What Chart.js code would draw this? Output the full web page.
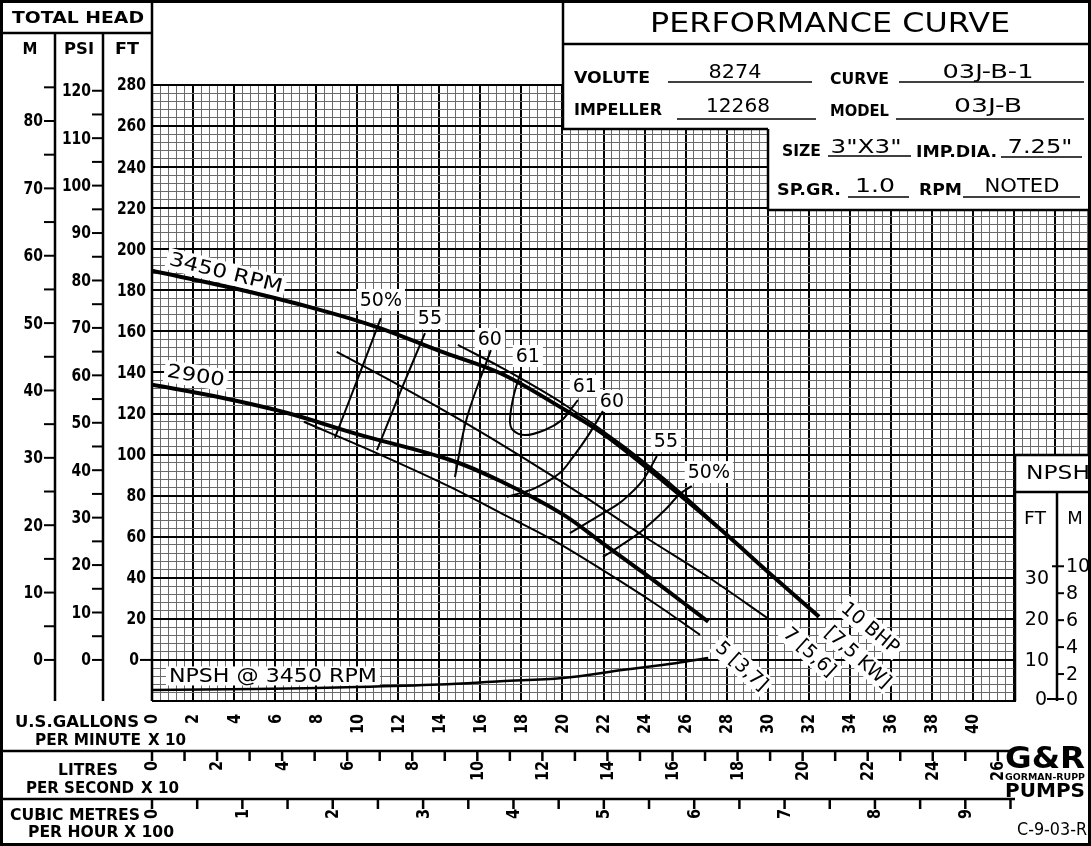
<!DOCTYPE html>
<html lang="en">
<head>
<meta charset="UTF-8">
<title>Performance Curve 03J-B</title>
<style>
  html, body { margin: 0; padding: 0; background: #fff; }
</style>
</head>
<body>
<canvas id="curveChart" width="1091" height="846"></canvas>

<script src="https://cdn.jsdelivr.net/npm/chart.js"></script>
<script>
// flow in U.S. gpm x 10, head in ft
const q3450 = [0, 4, 8, 11, 14, 17, 20, 22, 24, 26, 28, 30, 32.5];
const h3450 = [189.5, 181, 171, 162, 150.5, 139.5, 122.5, 110, 94.5, 78, 61, 43, 21];
const q2900 = [0, 3, 6.5, 10, 14.5, 17, 20, 22, 24, 26, 27.1];
const h2900 = [134, 128.5, 120.5, 110, 97.5, 87, 71, 56.5, 42, 27, 18.6];

// brake horsepower lines
const qBhp5 = [7.4, 11, 14.5, 17, 19.5, 22, 24.5, 26.7];
const hBhp5 = [116, 100.5, 84.4, 71.5, 58.6, 43.5, 27.5, 12.2];
const qBhp7 = [9, 12, 15, 18, 21, 24, 27, 30];
const hBhp7 = [150, 134, 117, 99, 80, 60, 41, 20.3];
const qBhp10 = [14.9, 17, 20, 23, 26, 29, 32.5];
const hBhp10 = [153.4, 142.5, 125, 104, 79.5, 52, 21.5];

// efficiency lines (left side / right side)
const qEff50L = [11.15, 10.1, 8.91], hEff50L = [166.5, 139, 108.1];
const qEff55L = [13.3, 12.1, 10.96], hEff55L = [159.2, 130.5, 102.2];
const qEff60L = [16.51, 15.34, 14.76], hEff60L = [150.9, 117.8, 89.1];
const qEff61 = [17.97, 17.63, 17.44, 17.58, 18.17, 19.14, 19.97, 20.46, 20.75];
const hEff61 = [140.2, 129, 116.8, 112, 109.5, 112, 116.8, 122.7, 126.6];
const qEff60R = [21.97, 21.24, 20.51, 19.87, 18.66, 17.29], hEff60R = [121.2, 109.1, 98.8, 91, 83.7, 79.4];
const qEff55R = [24.6, 23.92, 23.14, 22.65, 21.58, 20.36], hEff55R = [99.3, 87.6, 79.4, 75.5, 69.1, 61.8];
const qEff50R = [26.3, 25.72, 24.99, 23.92, 23.04, 21.97], hEff50R = [84.7, 80.8, 73, 63.3, 57, 50.1];

// NPSH required @ 3450 rpm, ft
const qNpsh = [0, 5, 10, 14, 17, 20, 23, 25.5, 27.1];
const npshFt = [2.7, 2.9, 3.4, 4.0, 4.8, 5.6, 7.6, 9.2, 10.5];

// tick labels
const gpmTicks = [0, 2, 4, 6, 8, 10, 12, 14, 16, 18, 20, 22, 24, 26, 28, 30, 32, 34, 36, 38, 40];
const lpsTicks = [0, 2, 4, 6, 8, 10, 12, 14, 16, 18, 20, 22, 24, 26];
const m3hTicks = [0, 1, 2, 3, 4, 5, 6, 7, 8, 9];
const ftTicks = [0, 20, 40, 60, 80, 100, 120, 140, 160, 180, 200, 220, 240, 260, 280];
const psiTicks = [0, 10, 20, 30, 40, 50, 60, 70, 80, 90, 100, 110, 120];
const mTicks = [0, 10, 20, 30, 40, 50, 60, 70, 80];
const npshFtTicks = [0, 10, 20, 30];
const npshMTicks = [0, 2, 4, 6, 8, 10];

const FT_PER_M = 3.2808, FT_PER_PSI = 2.31, GPM_PER_LPS = 15.85, GPM_PER_M3H = 4.4029;

function pts(q, h) { return q.map((x, i) => ({ x: x, y: h[i] })); }
function steps(min, max, step) {
  const out = [];
  for (let k = 0; min + k * step <= max + 1e-9; k++) out.push({ value: +(min + k * step).toFixed(4) });
  return out;
}

const curves = [
  [q3450, h3450, 4, 'y'],
  [q2900, h2900, 4, 'y'],
  [qBhp5, hBhp5, 2, 'y'],
  [qBhp7, hBhp7, 2, 'y'],
  [qBhp10, hBhp10, 2, 'y'],
  [qEff50L, hEff50L, 2, 'y'],
  [qEff55L, hEff55L, 2, 'y'],
  [qEff60L, hEff60L, 2, 'y'],
  [qEff61, hEff61, 2, 'y'],
  [qEff60R, hEff60R, 2, 'y'],
  [qEff55R, hEff55R, 2, 'y'],
  [qEff50R, hEff50R, 2, 'y'],
  [qNpsh, npshFt, 2.5, 'yN']
];

// ---- drawing helpers ----
function txt(c, s, x, y, o) {
  o = o || {};
  c.save();
  c.font = o.font || '16px "DejaVu Sans"';
  const w0 = c.measureText(s).width;
  const sx = o.w ? o.w / w0 : (o.sx || 1);
  const w = w0 * sx;
  c.translate(x, y);
  if (o.rot) c.rotate(o.rot * Math.PI / 180);
  const align = o.align || 'center';
  const left = align === 'center' ? -w / 2 : (align === 'right' ? -w : 0);
  if (o.bg) {
    const h = o.bh || 22;
    c.fillStyle = '#fff';
    c.fillRect(left - 3, -h / 2, w + 6, h);
  }
  c.scale(sx, 1);
  c.fillStyle = '#000';
  c.textBaseline = 'middle';
  c.textAlign = 'left';
  c.fillText(s, left / sx, 1);
  c.restore();
}
function ln(c, x1, y1, x2, y2, lw) {
  c.beginPath();
  c.lineWidth = lw || 2;
  c.strokeStyle = '#000';
  c.moveTo(x1, y1);
  c.lineTo(x2, y2);
  c.stroke();
}

const LBL = '19px "DejaVu Sans"';
const BOLD = 'bold 15px "DejaVu Sans"';
const NUM = 'bold 17px "DejaVu Sans"';

const sheet = {
  id: 'sheet',
  beforeDatasetsDraw(chart) {
    const c = chart.ctx, X = chart.scales.x, Y = chart.scales.y;
    const at = (u, f) => [X.getPixelForValue(u), Y.getPixelForValue(f)];
    // curve labels on white patches
    let p;
    p = at(3.6, 188.5); txt(c, '3450 RPM', p[0], p[1], { font: LBL, rot: 14, bg: true, w: 116 });
    p = at(2.14, 138.5); txt(c, '2900', p[0], p[1], { font: LBL, rot: 9, bg: true, w: 58 });
    const effLbl = [['50%', 11.15, 175.3], ['55', 13.54, 166.5], ['60', 16.46, 156.3], ['61', 18.31, 148],
                    ['61', 21.09, 133.4], ['60', 22.41, 126.1], ['55', 25.04, 106.6], ['50%', 27.13, 91.5]];
    effLbl.forEach(e => { p = at(e[1], e[2]); txt(c, e[0], p[0], p[1], { font: LBL, bg: true }); });
    p = at(5.89, -7.8); txt(c, 'NPSH @ 3450 RPM', p[0], p[1], { font: LBL, bg: true, w: 208, bh: 19 });
    p = at(28.74, -2.9); txt(c, '5 [3,7]', p[0], p[1], { font: LBL, rot: 42, bg: true });
    p = at(32.05, 3.9); txt(c, '7 [5,6]', p[0], p[1], { font: LBL, rot: 42, bg: true });
    p = at(35.0, 15.6); txt(c, '10 BHP', p[0], p[1], { font: LBL, rot: 40, bg: true });
    p = at(34.4, 1.4); txt(c, '[7,5 KW]', p[0], p[1], { font: LBL, rot: 42, bg: true });
  },
  afterDraw(chart) {
    const c = chart.ctx, X = chart.scales.x, Y = chart.scales.y, YN = chart.scales.yN;
    const gBot = Y.getPixelForValue(-20);

    // info box
    c.fillStyle = '#fff';
    c.fillRect(563, 0, 528, 129);
    c.fillRect(768, 0, 323, 210);
    // NPSH box
    c.fillRect(1016, 455, 75, gBot - 453);

    // frame
    c.save();
    c.strokeStyle = '#000';
    c.lineWidth = 3;
    c.strokeRect(1.5, 1.5, 1088, 843);
    c.restore();
    ln(c, 152, 0, 152, gBot, 2.5);
    ln(c, 0, 33, 152, 33, 2.5);
    ln(c, 55, 33, 55, gBot, 2.5);
    ln(c, 103, 33, 103, gBot, 2.5);
    ln(c, 0, 751, 1015, 751, 2.5);
    ln(c, 0, 799, 1015, 799, 2.5);
    ln(c, 563, 0, 563, 129, 2.5);
    ln(c, 563, 44, 1091, 44, 2.5);
    ln(c, 563, 129, 768, 129, 2.5);
    ln(c, 768, 129, 768, 210, 2.5);
    ln(c, 768, 210, 1091, 210, 2.5);
    ln(c, 1015, 455, 1015, gBot, 2.5);
    ln(c, 1015, 455, 1091, 455, 2.5);
    ln(c, 1015, 492, 1091, 492, 2.5);
    ln(c, 1057, 492, 1057, gBot, 2.5);

    // left head scales
    txt(c, 'TOTAL HEAD', 78, 18, { font: 'bold 16px "DejaVu Sans"', w: 132 });
    txt(c, 'M', 30, 49, { font: BOLD });
    txt(c, 'PSI', 79, 49, { font: BOLD, w: 30 });
    txt(c, 'FT', 127, 49, { font: BOLD, w: 24 });
    for (let m = 0; m <= 85; m += 5) {
      const y = Y.getPixelForValue(m * FT_PER_M);
      ln(c, 44, y, 55, y, 2);
    }
    mTicks.forEach(m => txt(c, String(m), 43, Y.getPixelForValue(m * FT_PER_M), { font: NUM, align: 'right', sx: 0.82 }));
    for (let p = 0; p <= 120; p += 5) {
      const y = Y.getPixelForValue(p * FT_PER_PSI);
      ln(c, 92, y, 103, y, 2);
    }
    psiTicks.forEach(p => txt(c, String(p), 91, Y.getPixelForValue(p * FT_PER_PSI), { font: NUM, align: 'right', sx: 0.82 }));
    ftTicks.forEach(f => txt(c, String(f), f === 0 ? 139 : 146, Y.getPixelForValue(f), { font: NUM, align: 'right', sx: 0.82 }));
    ln(c, 140, Y.getPixelForValue(0), 152, Y.getPixelForValue(0), 2);

    // NPSH scales
    txt(c, 'NPSH', 1058, 473, { font: '20px "DejaVu Sans"', w: 64 });
    txt(c, 'FT', 1035, 518, { font: '18px "DejaVu Sans"', w: 22 });
    txt(c, 'M', 1075, 518, { font: '18px "DejaVu Sans"' });
    npshFtTicks.forEach(n => {
      const y = YN.getPixelForValue(n);
      if (n === 0) { txt(c, '0', 1041, y - 2, { font: '19px "DejaVu Sans"' }); ln(c, 1047, y - 2, 1057, y - 2, 2); }
      else txt(c, String(n), 1049, y, { font: '19px "DejaVu Sans"', align: 'right' });
    });
    npshMTicks.forEach(m => {
      const y = YN.getPixelForValue(m * FT_PER_M);
      const yy = m === 0 ? y - 2 : y;
      ln(c, m === 10 ? 1052 : 1057, yy, 1064, yy, 2);
      txt(c, String(m), 1066, yy, { font: '19px "DejaVu Sans"', align: 'left' });
    });

    // flow scales
    txt(c, 'U.S.GALLONS', 77, 722, { font: BOLD, w: 124 });
    txt(c, 'PER MINUTE', 88, 740, { font: BOLD, w: 106 });
    txt(c, 'X 10', 167, 740, { font: BOLD, w: 38 });
    gpmTicks.forEach(u => txt(c, String(u), X.getPixelForValue(u), 714, { font: NUM, rot: -90, align: 'right', sx: 0.85 }));

    txt(c, 'LITRES', 88, 770, { font: BOLD, w: 60 });
    txt(c, 'PER SECOND', 80, 788, { font: BOLD, w: 108 });
    txt(c, 'X 10', 160, 788, { font: BOLD, w: 38 });
    for (let n = 0; n <= 26; n++) {
      const x = X.getPixelForValue(n * GPM_PER_LPS / 10);
      ln(c, x, 751, x, 761, 2.5);
    }
    lpsTicks.forEach(n => txt(c, String(n), X.getPixelForValue(n * GPM_PER_LPS / 10), 761, { font: NUM, rot: -90, align: 'right', sx: 0.85 }));

    txt(c, 'CUBIC METRES', 75, 815, { font: BOLD, w: 130 });
    txt(c, 'PER HOUR X 100', 101, 832, { font: BOLD, w: 146 });
    for (let n = 0; n <= 9.5; n += 0.5) {
      const x = X.getPixelForValue(n * GPM_PER_M3H);
      ln(c, x, 799, x, 809, 2.5);
    }
    m3hTicks.forEach(n => txt(c, String(n), X.getPixelForValue(n * GPM_PER_M3H), 809, { font: NUM, rot: -90, align: 'right', sx: 0.85 }));

    // title block
    txt(c, 'PERFORMANCE CURVE', 830, 24, { font: '27px "DejaVu Sans"', w: 360 });
    const hdr = 'bold 16px "DejaVu Sans"', val = '20px "DejaVu Sans"';
    txt(c, 'VOLUTE', 574, 78, { font: hdr, align: 'left', w: 76 });
    ln(c, 668, 82, 812, 82, 1.5);
    txt(c, '8274', 735, 72, { font: val, w: 53 });
    txt(c, 'CURVE', 830, 79, { font: hdr, align: 'left', w: 59 });
    ln(c, 899, 82, 1084, 82, 1.5);
    txt(c, '03J-B-1', 988, 72, { font: val, w: 91 });
    txt(c, 'IMPELLER', 574, 110, { font: hdr, align: 'left', w: 88 });
    ln(c, 677, 119, 816, 119, 1.5);
    txt(c, '12268', 738, 106, { font: val, w: 64 });
    txt(c, 'MODEL', 830, 111, { font: hdr, align: 'left', w: 59 });
    ln(c, 896, 119, 1084, 119, 1.5);
    txt(c, '03J-B', 988, 106, { font: val, w: 68 });
    txt(c, 'SIZE', 782, 151, { font: hdr, align: 'left', w: 39 });
    ln(c, 828, 156, 911, 156, 1.5);
    txt(c, '3"X3"', 866, 147, { font: val, w: 71 });
    txt(c, 'IMP.DIA.', 916, 152, { font: hdr, align: 'left', w: 81 });
    ln(c, 1001, 157, 1082, 157, 1.5);
    txt(c, '7.25"', 1040, 147, { font: val, w: 65 });
    txt(c, 'SP.GR.', 777, 190, { font: hdr, align: 'left', w: 64 });
    ln(c, 848, 197, 909, 197, 1.5);
    txt(c, '1.0', 875, 186, { font: val, w: 40 });
    txt(c, 'RPM', 919, 190, { font: hdr, align: 'left', w: 43 });
    ln(c, 963, 197, 1080, 197, 1.5);
    txt(c, 'NOTED', 1022, 186, { font: val, w: 75 });

    // maker mark
    txt(c, 'G&R', 1045, 759, { font: 'bold 30px "DejaVu Sans"', w: 80 });
    txt(c, 'GORMAN-RUPP', 1045, 777, { font: 'bold 8px "DejaVu Sans"', w: 80 });
    txt(c, 'PUMPS', 1045, 791, { font: 'bold 19px "DejaVu Sans"', w: 80 });
    txt(c, 'C-9-03-R', 1052, 830, { font: '17px "DejaVu Sans"', w: 70 });
  }
};

const ctx = document.getElementById('curveChart');
new Chart(ctx, {
  type: 'scatter',
  data: {
    datasets: curves.map(cv => ({
      data: pts(cv[0], cv[1]),
      yAxisID: cv[3],
      showLine: true,
      borderColor: '#000',
      borderWidth: cv[2],
      pointRadius: 0,
      tension: 0.35,
      fill: false
    }))
  },
  options: {
    responsive: false,
    animation: false,
    devicePixelRatio: 1,
    layout: { padding: { left: 152, top: 85, right: 0, bottom: 145 } },
    plugins: { legend: { display: false }, tooltip: { enabled: false } },
    scales: {
      x: {
        type: 'linear', min: 0, max: 45.75,
        afterFit(s) { s.height = 0; },
        afterBuildTicks(s) { s.ticks = steps(0, 45.75, 0.4); },
        ticks: { display: false },
        border: { display: false },
        grid: {
          drawTicks: false,
          color: c => c.index % 5 === 0 ? '#000' : '#6a6a6a',
          lineWidth: c => c.index % 5 === 0 ? 2 : 1
        }
      },
      y: {
        type: 'linear', min: -20, max: 280,
        afterFit(s) { s.width = 0; },
        afterBuildTicks(s) { s.ticks = steps(-20, 280, 4); },
        ticks: { display: false },
        border: { display: false },
        grid: {
          drawTicks: false,
          color: c => c.index % 5 === 0 ? '#000' : '#6a6a6a',
          lineWidth: c => c.index % 5 === 0 ? 2 : 1
        }
      },
      yN: { type: 'linear', display: false, min: 0, max: 150 }
    }
  },
  plugins: [sheet]
});
</script>
</body>
</html>
